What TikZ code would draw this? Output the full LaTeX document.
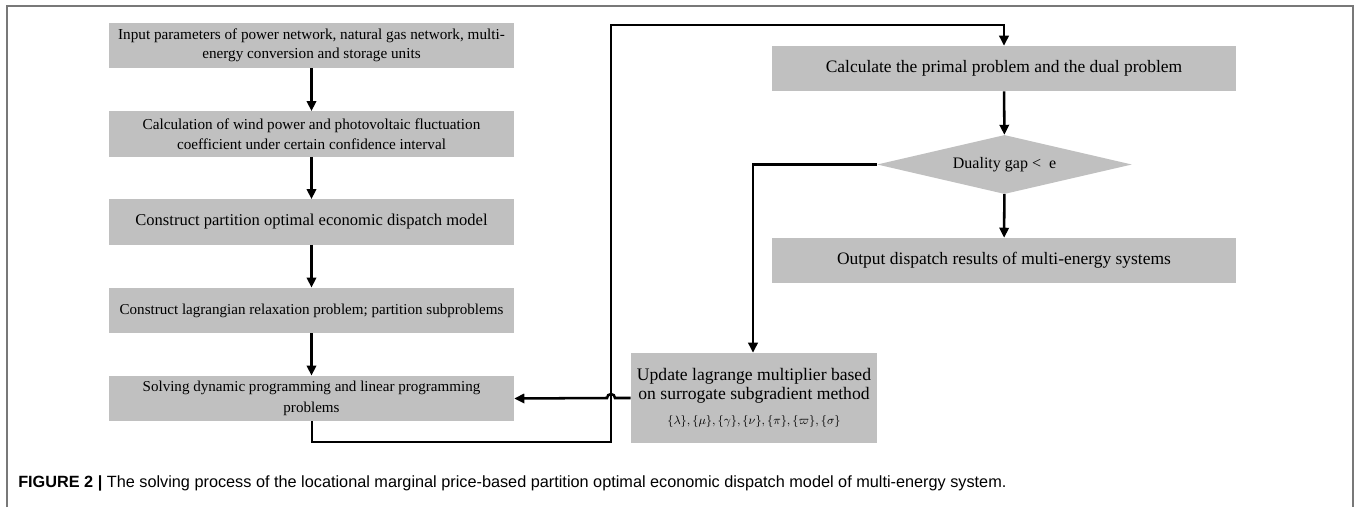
\documentclass[tikz,border=0pt]{standalone}
\usepackage{fontspec}
\setmainfont{Liberation Serif}
\setsansfont{Liberation Sans}
\usetikzlibrary{shapes.geometric,arrows.meta}
\newcommand{\fsz}[2]{\fontsize{#1}{#2}\selectfont}
\begin{document}
\begin{tikzpicture}[x=0.75pt,y=-0.75pt,
  stepbox/.style={draw=none,fill=boxgray,inner sep=0pt,align=center},
  leftbox/.style={stepbox,minimum width=303.75pt,minimum height=34pt},
  rightbox/.style={stepbox,minimum width=348pt,minimum height=33.75pt,font=\fsz{13.1}{15}},
  decision/.style={diamond,fill=boxgray,inner sep=0pt,aspect=4.3,
    minimum width=191pt,minimum height=44.25pt,font=\fsz{12}{14}},
  flow/.style={line width=1.9pt,-{Triangle[length=7.5pt,width=7pt]}},
  plain/.style={line width=1.9pt}]
\definecolor{boxgray}{RGB}{192,192,192}
\definecolor{framegray}{RGB}{120,120,120}
\useasboundingbox (0,0) rectangle (1356,507);
\fill[white] (0,0) rectangle (1356,507);
\draw[framegray,line width=1pt] (7,507) -- (7,6) -- (1353,6) -- (1353,507);
% left column
\node[leftbox,font=\fsz{11.4}{14.5}] (b1) at (311.5,45.5)
  {Input parameters of power network, natural gas network, multi-\\energy conversion and storage units};
\node[leftbox,font=\fsz{11.4}{15}] (b2) at (311.5,134)
  {Calculation of wind power and photovoltaic fluctuation\\coefficient under certain confidence interval};
\node[leftbox,font=\fsz{12.4}{15}] (b3) at (311.5,222)
  {Construct partition optimal economic dispatch model};
\node[leftbox,font=\fsz{11.3}{15}] (b4) at (311.5,310.5)
  {Construct lagrangian relaxation problem; partition subproblems};
\node[leftbox,font=\fsz{11.3}{15.5}] (b5) at (311.5,398.5)
  {Solving dynamic programming and linear programming\\problems};
% right column
\node[rightbox] (b6) at (1004,68.5)
  {Calculate the primal problem and the dual problem};
\node[decision] (d) at (1004.5,164.5) {Duality gap <~~e};
\node[rightbox] (b7) at (1004,260.5)
  {Output dispatch results of multi-energy systems};
\node[stepbox,minimum width=184.5pt,minimum height=67.5pt,font=\fsz{13.2}{14.5}] (b8) at (754,398)
  {Update lagrange multiplier based\\on surrogate subgradient method\\[4pt]
   {\fsz{8.6}{10}$\{\lambda\},\{\mu\},\{\gamma\},\{\nu\},\{\pi\},\{\varpi\},\{\sigma\}$}};
% caption
\node[anchor=base west,inner sep=0pt,font=\sffamily\fsz{12.2}{14}] (cap) at (18,487)
  {\textbf{FIGURE 2 |} The solving process of the locational marginal price-based partition optimal economic dispatch model of multi-energy system.};
% connectors
\draw[flow] (b1) -- (b2);
\draw[flow] (b2) -- (b3);
\draw[flow] (b3) -- (b4);
\draw[flow] (b4) -- (b5);
\coordinate (l1) at (312,442);
\coordinate (l2) at (611,442);
\coordinate (l3) at (611,25);
\coordinate (l4) at (1004,25);
\draw[flow] (b5.south -| l1) -- (l1) -- (l2) -- (l3) -- (l4) -- (b6.north);
\draw[flow] (b6) -- (d);
\draw[flow] (d) -- (b7);
\coordinate (k1) at (753,164.5);
\draw[flow] (d.west) -- (k1) -- (b8.north -| k1);
\coordinate (j1) at (615,398);
\draw[flow] (b8.west) -- (j1) arc[start angle=0,end angle=180,radius=3pt] -- (b5.east);
\end{tikzpicture}
\end{document}
